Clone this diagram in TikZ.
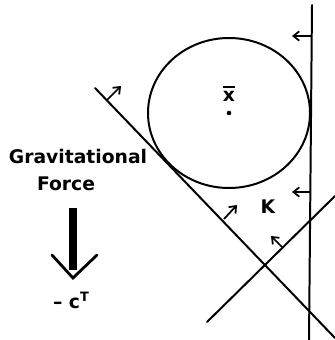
\documentclass[tikz,border=0pt]{standalone}
\usepackage{fontspec}
\newfontfamily\plotfont{DejaVu Sans}
\usetikzlibrary{arrows.meta, calc}

\begin{document}
\begin{tikzpicture}[
    x=0.03cm, y=-0.03cm,
    every node/.style={font=\plotfont\bfseries\fontsize{16}{18}\selectfont, inner sep=0pt},
    edge/.style={line width=1.7pt, line cap=round},
    normal/.style={
        -{Straight Barb[length=5pt, width=8pt, line width=1.5pt]},
        line width=1.5pt
    },
    gravity/.style={line width=6.8pt}
]
\useasboundingbox (0,0) rectangle (334,340);

% Constraint lines
\coordinate (vtop) at (312,5);
\coordinate (vbot) at (309,341);
\coordinate (dstart) at (95,88);
\coordinate (dend) at (335,338);
\coordinate (ustart) at (207,322);
\coordinate (uend) at (335,196);

\draw[edge] (vtop) -- (vbot);
\draw[edge] (dstart) -- (dend);
\draw[edge] (ustart) -- (uend);

% Inscribed ball
\coordinate (center) at (229,113);
\draw[edge] (center) ellipse [x radius=81, y radius=75];
\fill (center) circle [radius=2.3];
\node[anchor=base] (xbar) at (229,101)
    {\setbox0\hbox{x}\vbox{\hrule width\wd0 height 1.7pt\kern2.2pt\box0}};

% Normals
\draw[normal] (107,100) -- (121,86);
\draw[normal] (224,219) -- (237,205);
\draw[normal] (282,247) -- (271,236);
\draw[normal] (312,36) -- (292,36);
\draw[normal] (310,192) -- (292,192);

\node[anchor=base] (setK) at (268,213) {K};

% Gravity arrow
\node[anchor=base] (gtext) at (78,163) {Gravitational};
\node[anchor=base] (ftext) at (66,190) {Force};
\coordinate (gtop) at (73,208);
\coordinate (gtip) at (73,278);
\draw[gravity] (gtop) -- ($(gtip)+(0,-8)$);
\draw[line width=2.4pt, line cap=round] (52,255) -- (gtip) -- (97,255);
\node[anchor=base] (ctext) at (71,308)
    {\textendash\ c\raisebox{0.6ex}{\fontsize{11}{12}\selectfont T}};

\end{tikzpicture}
\end{document}
